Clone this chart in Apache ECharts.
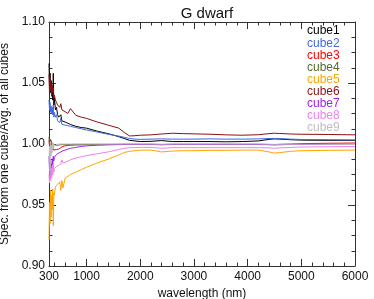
<!DOCTYPE html>
<html><head><meta charset="utf-8">
<script src="https://cdn.jsdelivr.net/npm/echarts@6/dist/echarts.min.js"></script>
<style>html,body{margin:0;padding:0;background:#fff}#c{width:374px;height:299px}</style>
</head><body><div id="c"></div>
<script>
var wavelength = [300,310,320,330,340,350,360,370,380,390,400,420,440,460,480,500,520,540,560,600,650,700,800,900,1000,1200,1400,1600,1700,1800,1900,2000,2200,2400,2600,2800,3000,3300,3600,3900,4200,4400,4500,4600,4800,5000,5500,6000];
var cube1 = [1.066,1.045,1.058,1.042,1.052,1.040,1.048,1.036,1.058,1.032,1.038,1.028,1.030,1.024,1.022,1.021,1.024,1.019,1.020,1.018,1.017,1.016,1.0145,1.0135,1.013,1.0105,1.0085,1.006,1.0045,1.003,1.0025,1.002,1.0022,1.0028,1.002,1.002,1.002,1.002,1.0018,1.002,1.0025,1.0038,1.0042,1.004,1.0035,1.0032,1.003,1.003];
var cube2 = [1.036,1.028,1.034,1.026,1.031,1.025,1.030,1.024,1.032,1.022,1.026,1.022,1.024,1.019,1.018,1.0175,1.021,1.016,1.017,1.0155,1.015,1.0145,1.0135,1.0125,1.0115,1.0098,1.008,1.0065,1.0055,1.0045,1.004,1.0038,1.004,1.0042,1.004,1.004,1.004,1.0042,1.004,1.004,1.0042,1.0045,1.0045,1.0044,1.004,1.0037,1.0035,1.0033];
var cube3 = [1.003,0.998,1.004,0.997,1.001,0.996,0.999,0.995,0.997,0.995,0.9955,0.995,0.9955,0.995,0.9958,0.9965,0.997,0.9975,0.998,0.9985,0.9988,0.999,0.9992,0.9993,0.9994,0.9995,0.9996,0.9997,0.9998,0.9998,0.9998,0.9998,0.9998,0.9996,0.9998,0.9998,0.9998,0.9998,0.9998,0.9998,0.9998,0.9996,0.9995,0.9997,1.0,1.0003,1.0006,1.0008];
var cube4 = [1.006,0.999,1.004,1.000,1.003,0.999,1.001,0.998,1.000,0.999,0.9995,0.999,0.9992,0.999,0.9993,0.9993,0.9995,0.9994,0.9995,0.9995,0.9996,0.9996,0.9997,0.9997,0.9997,0.9997,0.9997,0.9997,0.9997,0.9997,0.9997,0.9996,0.9996,0.9994,0.9996,0.9996,0.9996,0.9996,0.9996,0.9996,0.9996,0.9995,0.9994,0.9995,0.9996,0.9996,0.9996,0.9996];
var cube5 = [0.921,0.952,0.935,0.962,0.940,0.958,0.946,0.963,0.933,0.960,0.958,0.965,0.966,0.967,0.9675,0.969,0.962,0.970,0.964,0.972,0.9735,0.975,0.977,0.979,0.981,0.9845,0.9875,0.991,0.993,0.994,0.9945,0.995,0.995,0.9935,0.9942,0.9945,0.9945,0.9948,0.9948,0.995,0.995,0.9935,0.9925,0.993,0.994,0.9945,0.9948,0.995];
var cube6 = [1.057,1.040,1.055,1.044,1.050,1.039,1.048,1.042,1.046,1.038,1.040,1.036,1.034,1.032,1.031,1.030,1.033,1.028,1.027,1.0265,1.025,1.029,1.0235,1.022,1.021,1.018,1.0155,1.013,1.0095,1.0066,1.0068,1.0072,1.0075,1.0082,1.0088,1.0085,1.0083,1.008,1.0075,1.0072,1.0076,1.0085,1.0088,1.0086,1.0082,1.008,1.0078,1.0075];
var cube7 = [0.990,0.978,0.986,0.976,0.984,0.980,0.988,0.983,0.990,0.986,0.989,0.990,0.9915,0.992,0.9925,0.993,0.9935,0.994,0.9945,0.995,0.9958,0.9965,0.9972,0.998,0.9985,0.999,0.9993,0.9995,0.9996,0.9996,0.9996,0.9996,0.9996,0.9995,0.9996,0.9996,0.9996,0.9996,0.9996,0.9996,0.9996,0.9995,0.9994,0.9995,0.9996,0.9996,0.9996,0.9996];
var cube8 = [0.975,0.968,0.978,0.970,0.980,0.972,0.982,0.975,0.983,0.977,0.980,0.981,0.9815,0.982,0.9825,0.983,0.9835,0.987,0.9845,0.985,0.986,0.987,0.9885,0.9895,0.9905,0.992,0.9935,0.9955,0.9965,0.997,0.997,0.9972,0.9972,0.9965,0.997,0.997,0.997,0.997,0.997,0.997,0.997,0.9968,0.9965,0.9968,0.9972,0.9975,0.9978,0.998];
var cube9 = [0.985,0.998,0.978,1.002,0.990,0.999,0.993,1.001,0.996,1.000,0.998,0.999,0.9995,1.000,1.000,1.000,1.000,1.000,1.000,1.000,1.000,1.000,1.000,1.000,1.000,1.000,1.000,1.000,1.000,1.000,1.000,1.000,1.000,0.9998,1.000,1.000,1.000,1.000,1.000,1.000,1.000,0.9998,0.9997,0.9998,0.9998,0.9998,0.9997,0.9996];
var cubeNames = ['cube1','cube2','cube3','cube4','cube5','cube6','cube7','cube8','cube9'];
var cubeColors = ['#000000','#4169e1','#ff0000','#556b2f','#ffa500','#8b1010','#a020f0','#ee82ee','#bebebe'];
var xMajor = [300,1000,2000,3000,4000,5000,6000];
var xTickMajor = [1000,2000,3000,4000,5000];
var xTickMinor = [400,600,800,1200,1400,1600,1800,2200,2400,2600,2800,3200,3400,3600,3800,4200,4400,4600,4800,5200,5400,5600,5800];
var allCubes = [cube1,cube2,cube3,cube4,cube5,cube6,cube7,cube8,cube9];

var FONT = 'Liberation Sans, Arial, Helvetica, sans-serif';
var AX = '#333';
var chart = echarts.init(document.getElementById('c'), null, {renderer:'canvas'});
function xAx(pos, ticks, len, labels, line) {
  return {
    type:'value', position:pos, min:300, max:6000,
    axisLine:{show:line, onZero:false, lineStyle:{color:AX, width:1}},
    axisTick:{show:true, inside:true, length:len, customValues:ticks, lineStyle:{color:AX}},
    axisLabel:labels ? {show:true, customValues:xMajor, color:'#111', fontSize:12, fontFamily:FONT, margin:5, formatter:function(v){return String(v);}} : {show:false},
    splitLine:{show:false},
    name: labels ? 'wavelength (nm)' : '',
    nameLocation:'middle', nameGap:19,
    nameTextStyle:{color:'#111', fontSize:12, fontFamily:FONT}
  };
}
function yAx(pos, labels) {
  return {
    type:'value', position:pos, min:0.90, max:1.10, interval:0.05,
    axisLine:{show:true, onZero:false, lineStyle:{color:AX, width:1}},
    axisTick:{show:true, inside:true, length:7, lineStyle:{color:AX}},
    minorTick:{show:true, splitNumber:4, length:3.5, lineStyle:{color:AX}},
    axisLabel:labels ? {show:true, color:'#111', fontSize:12, fontFamily:FONT, margin:4, formatter:function(v){return v.toFixed(2);}} : {show:false},
    splitLine:{show:false},
    name: labels ? 'Spec. from one cube/Avg. of all cubes' : '',
    nameLocation:'middle', nameGap:33, nameRotate:90,
    nameTextStyle:{color:'#111', fontSize:12, fontFamily:FONT}
  };
}
var series = cubeNames.map(function(n, k){
  return {
    name:n, type:'line', xAxisIndex:0, yAxisIndex:0, showSymbol:false, symbol:'none',
    lineStyle:{color:cubeColors[k], width:1}, itemStyle:{color:cubeColors[k]},
    data: wavelength.map(function(w,i){return [w, allCubes[k][i]];}),
    animation:false
  };
});
chart.setOption({
  animation:false,
  backgroundColor:'#fff',
  title:{text:'G dwarf', left:202, top:1, textAlign:'center', textStyle:{fontSize:15, fontWeight:'normal', color:'#111', fontFamily:FONT}},
  grid:{left:49, right:19, top:22, bottom:33, containLabel:false, outerBoundsMode:'none'},
  legend:{
    orient:'vertical', left:297, top:20, icon:'none', itemWidth:0, itemHeight:12.2, itemGap:0,
    data: cubeNames.map(function(n,k){return {name:n, textStyle:{color:cubeColors[k]}};}),
    textStyle:{fontSize:12, fontFamily:FONT}, selectedMode:false
  },
  xAxis:[xAx('bottom', xTickMajor, 7, true, true), xAx('bottom', xTickMinor, 3.5, false, false), xAx('top', xTickMajor, 7, false, true), xAx('top', xTickMinor, 3.5, false, false)],
  yAxis:[yAx('left', true), yAx('right', false)],
  series: series
});
</script></body></html>
